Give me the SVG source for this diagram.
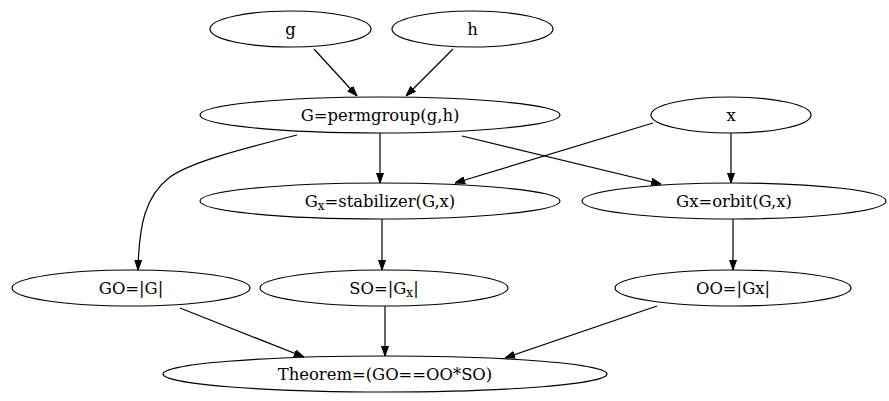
<svg xmlns="http://www.w3.org/2000/svg" width="889" height="401" viewBox="0 0 889 401">
<style>
.node ellipse{fill:none;stroke:#000;stroke-width:1.2}
.node text{font-family:"DejaVu Serif",serif;font-size:16.4px;fill:#000;text-anchor:middle}
.sub{font-size:12px}
.edges path{fill:none;stroke:#000;stroke-width:1.2}
</style>
<defs>
<marker id="ah" markerWidth="10" markerHeight="8" refX="10" refY="4" orient="auto" markerUnits="userSpaceOnUse">
<path d="M0,0.5 L10,4 L0,7.5 Z" fill="#000" stroke="#000" stroke-width="1"/>
</marker>
</defs>
<rect width="889" height="401" fill="#fff"/>
<g class="edges">
<path d="M314,49 L357,96" marker-end="url(#ah)"/>
<path d="M453,49 L406,96" marker-end="url(#ah)"/>
<path d="M380,133 L380,183" marker-end="url(#ah)"/>
<path d="M297,135 C230,152 190,163 170,177 C145,196 139,225 138,270" marker-end="url(#ah)"/>
<path d="M462,136 L661,184" marker-end="url(#ah)"/>
<path d="M653,123 L455,183" marker-end="url(#ah)"/>
<path d="M731,133 L731,183" marker-end="url(#ah)"/>
<path d="M382,219 L382,270" marker-end="url(#ah)"/>
<path d="M733,219 L733,270" marker-end="url(#ah)"/>
<path d="M180,308 L304,357" marker-end="url(#ah)"/>
<path d="M385,306 L385,356" marker-end="url(#ah)"/>
<path d="M657,306 L505,358" marker-end="url(#ah)"/>
</g>
<g id="g" class="node"><ellipse cx="290.5" cy="29" rx="80.5" ry="18"/><text x="290.5" y="35">g</text></g>
<g id="h" class="node"><ellipse cx="472.5" cy="29" rx="80.5" ry="18"/><text x="472.5" y="35">h</text></g>
<g id="G" class="node"><ellipse cx="380" cy="115" rx="180" ry="18"/><text x="380" y="121">G=permgroup(g,h)</text></g>
<g id="x" class="node"><ellipse cx="731" cy="115" rx="80" ry="18"/><text x="731" y="121">x</text></g>
<g id="stab" class="node"><ellipse cx="380" cy="201" rx="180" ry="18"/><text x="380" y="207">G<tspan class="sub" dy="3">x</tspan><tspan dy="-3">=stabilizer(G,x)</tspan></text></g>
<g id="orbit" class="node"><ellipse cx="734" cy="201" rx="152" ry="18"/><text x="734" y="207">Gx=orbit(G,x)</text></g>
<g id="GO" class="node"><ellipse cx="131" cy="288" rx="119" ry="18"/><text x="131" y="294">GO=|G|</text></g>
<g id="SO" class="node"><ellipse cx="384" cy="288" rx="124" ry="18"/><text x="384" y="294">SO=|G<tspan class="sub" dy="3">x</tspan><tspan dy="-3">|</tspan></text></g>
<g id="OO" class="node"><ellipse cx="733" cy="288" rx="118" ry="18"/><text x="733" y="294">OO=|Gx|</text></g>
<g id="Theorem" class="node"><ellipse cx="385" cy="374" rx="222" ry="18"/><text x="385" y="380">Theorem=(GO==OO*SO)</text></g>
</svg>
